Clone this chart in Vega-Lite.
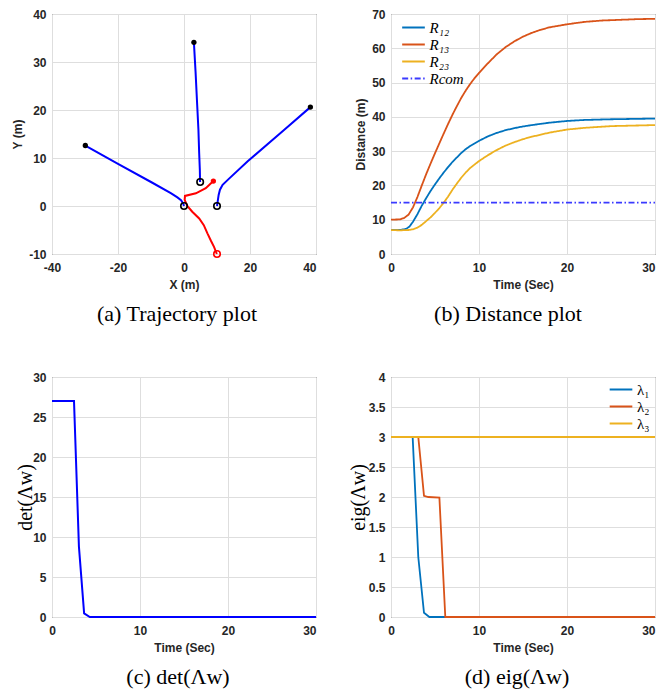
{
  "$schema": "https://vega.github.io/schema/vega-lite/v6.json",
  "padding": {"left": 11, "top": 7, "right": 3, "bottom": 0},
  "datasets": {
    "traj": [
      {"path": "a1", "kind": "agent", "seq": 1, "x": -29.9, "y": 12.6},
      {"path": "a1", "kind": "agent", "seq": 2, "x": -20, "y": 8.8},
      {"path": "a1", "kind": "agent", "seq": 3, "x": -10, "y": 5.0},
      {"path": "a1", "kind": "agent", "seq": 4, "x": -4.0, "y": 2.66},
      {"path": "a1", "kind": "agent", "seq": 5, "x": -2.0, "y": 1.8},
      {"path": "a1", "kind": "agent", "seq": 6, "x": -0.9, "y": 1.2},
      {"path": "a1", "kind": "agent", "seq": 7, "x": -0.3, "y": 0.6},
      {"path": "a1", "kind": "agent", "seq": 8, "x": 0, "y": 0},
      {"path": "a2", "kind": "agent", "seq": 1, "x": 3.0, "y": 34.1},
      {"path": "a2", "kind": "agent", "seq": 2, "x": 3.5, "y": 28},
      {"path": "a2", "kind": "agent", "seq": 3, "x": 4.0, "y": 21},
      {"path": "a2", "kind": "agent", "seq": 4, "x": 4.37, "y": 15.9},
      {"path": "a2", "kind": "agent", "seq": 5, "x": 4.6, "y": 11},
      {"path": "a2", "kind": "agent", "seq": 6, "x": 4.8, "y": 7.5},
      {"path": "a2", "kind": "agent", "seq": 7, "x": 4.87, "y": 5.0},
      {"path": "a3", "kind": "agent", "seq": 1, "x": 38.3, "y": 20.6},
      {"path": "a3", "kind": "agent", "seq": 2, "x": 30.4, "y": 15.9},
      {"path": "a3", "kind": "agent", "seq": 3, "x": 19.3, "y": 9.3},
      {"path": "a3", "kind": "agent", "seq": 4, "x": 13.5, "y": 5.6},
      {"path": "a3", "kind": "agent", "seq": 5, "x": 11.7, "y": 4.4},
      {"path": "a3", "kind": "agent", "seq": 6, "x": 10.9, "y": 3.4},
      {"path": "a3", "kind": "agent", "seq": 7, "x": 10.5, "y": 2.3},
      {"path": "a3", "kind": "agent", "seq": 8, "x": 10.2, "y": 0.9},
      {"path": "a3", "kind": "agent", "seq": 9, "x": 10.0, "y": 0},
      {"path": "t1", "kind": "target", "seq": 1, "x": 8.9, "y": 5.2},
      {"path": "t1", "kind": "target", "seq": 2, "x": 6.6, "y": 3.7},
      {"path": "t1", "kind": "target", "seq": 3, "x": 3.6, "y": 2.65},
      {"path": "t1", "kind": "target", "seq": 4, "x": 0.3, "y": 2.1},
      {"path": "t1", "kind": "target", "seq": 5, "x": 0.2, "y": 1.26},
      {"path": "t1", "kind": "target", "seq": 6, "x": 1.0, "y": 0},
      {"path": "t1", "kind": "target", "seq": 7, "x": 2.5, "y": -1.2},
      {"path": "t1", "kind": "target", "seq": 8, "x": 4.6, "y": -2.6},
      {"path": "t1", "kind": "target", "seq": 9, "x": 6.0, "y": -4.0},
      {"path": "t1", "kind": "target", "seq": 10, "x": 7.1, "y": -5.7},
      {"path": "t1", "kind": "target", "seq": 11, "x": 8.2, "y": -7.3},
      {"path": "t1", "kind": "target", "seq": 12, "x": 9.1, "y": -8.5},
      {"path": "t1", "kind": "target", "seq": 13, "x": 9.95, "y": -10}
    ],
    "marks": [
      {"kind": "agent", "end": "start", "x": -29.9, "y": 12.6},
      {"kind": "agent", "end": "start", "x": 3.0, "y": 34.1},
      {"kind": "agent", "end": "start", "x": 38.3, "y": 20.6},
      {"kind": "target", "end": "start", "x": 8.9, "y": 5.2},
      {"kind": "agent", "end": "end", "x": 0, "y": 0},
      {"kind": "agent", "end": "end", "x": 4.9, "y": 5.0},
      {"kind": "agent", "end": "end", "x": 10, "y": 0},
      {"kind": "target", "end": "end", "x": 10, "y": -10}
    ],
    "dist": [
      {"s": "R₁₂", "t": 0, "d": 7.0}, {"s": "R₁₂", "t": 1, "d": 7.0}, {"s": "R₁₂", "t": 1.7, "d": 7.3}, {"s": "R₁₂", "t": 2.1, "d": 8.0},
      {"s": "R₁₂", "t": 2.5, "d": 9.4}, {"s": "R₁₂", "t": 3, "d": 11.6}, {"s": "R₁₂", "t": 3.5, "d": 14.1}, {"s": "R₁₂", "t": 4, "d": 16.3},
      {"s": "R₁₂", "t": 4.5, "d": 18.4}, {"s": "R₁₂", "t": 5, "d": 20.3}, {"s": "R₁₂", "t": 5.5, "d": 22.1}, {"s": "R₁₂", "t": 6, "d": 23.8},
      {"s": "R₁₂", "t": 6.5, "d": 25.4}, {"s": "R₁₂", "t": 7, "d": 26.9}, {"s": "R₁₂", "t": 7.5, "d": 28.2}, {"s": "R₁₂", "t": 8, "d": 29.5},
      {"s": "R₁₂", "t": 8.5, "d": 30.6}, {"s": "R₁₂", "t": 9, "d": 31.5}, {"s": "R₁₂", "t": 10, "d": 33.0}, {"s": "R₁₂", "t": 11, "d": 34.3},
      {"s": "R₁₂", "t": 12, "d": 35.3}, {"s": "R₁₂", "t": 13, "d": 36.1}, {"s": "R₁₂", "t": 14, "d": 36.7}, {"s": "R₁₂", "t": 15, "d": 37.2},
      {"s": "R₁₂", "t": 16, "d": 37.6}, {"s": "R₁₂", "t": 18, "d": 38.3}, {"s": "R₁₂", "t": 20, "d": 38.8}, {"s": "R₁₂", "t": 22, "d": 39.1},
      {"s": "R₁₂", "t": 25, "d": 39.3}, {"s": "R₁₂", "t": 30, "d": 39.5},
      {"s": "R₁₃", "t": 0, "d": 10.0}, {"s": "R₁₃", "t": 1, "d": 10.1}, {"s": "R₁₃", "t": 1.5, "d": 10.5}, {"s": "R₁₃", "t": 2, "d": 11.5},
      {"s": "R₁₃", "t": 2.5, "d": 13.6}, {"s": "R₁₃", "t": 3, "d": 16.6}, {"s": "R₁₃", "t": 3.5, "d": 20.0}, {"s": "R₁₃", "t": 4, "d": 23.3},
      {"s": "R₁₃", "t": 4.5, "d": 26.4}, {"s": "R₁₃", "t": 5, "d": 29.4}, {"s": "R₁₃", "t": 5.5, "d": 32.3}, {"s": "R₁₃", "t": 6, "d": 35.2},
      {"s": "R₁₃", "t": 6.5, "d": 38.0}, {"s": "R₁₃", "t": 7, "d": 40.7}, {"s": "R₁₃", "t": 7.5, "d": 43.2}, {"s": "R₁₃", "t": 8, "d": 45.6},
      {"s": "R₁₃", "t": 8.5, "d": 47.7}, {"s": "R₁₃", "t": 9, "d": 49.6}, {"s": "R₁₃", "t": 9.5, "d": 51.3}, {"s": "R₁₃", "t": 10, "d": 52.8},
      {"s": "R₁₃", "t": 11, "d": 55.6}, {"s": "R₁₃", "t": 12, "d": 58.2}, {"s": "R₁₃", "t": 13, "d": 60.3}, {"s": "R₁₃", "t": 14, "d": 62.0},
      {"s": "R₁₃", "t": 15, "d": 63.4}, {"s": "R₁₃", "t": 16, "d": 64.5}, {"s": "R₁₃", "t": 17, "d": 65.4}, {"s": "R₁₃", "t": 18, "d": 66.1},
      {"s": "R₁₃", "t": 20, "d": 67.0}, {"s": "R₁₃", "t": 22, "d": 67.7}, {"s": "R₁₃", "t": 24, "d": 68.1}, {"s": "R₁₃", "t": 26, "d": 68.3},
      {"s": "R₁₃", "t": 28, "d": 68.5}, {"s": "R₁₃", "t": 30, "d": 68.6},
      {"s": "R₂₃", "t": 0, "d": 7.0}, {"s": "R₂₃", "t": 1, "d": 6.9}, {"s": "R₂₃", "t": 2, "d": 7.0}, {"s": "R₂₃", "t": 2.5, "d": 7.2},
      {"s": "R₂₃", "t": 3, "d": 7.7}, {"s": "R₂₃", "t": 3.5, "d": 8.5}, {"s": "R₂₃", "t": 4, "d": 9.6}, {"s": "R₂₃", "t": 4.5, "d": 10.7},
      {"s": "R₂₃", "t": 5, "d": 12.0}, {"s": "R₂₃", "t": 5.5, "d": 13.4}, {"s": "R₂₃", "t": 6, "d": 15.0}, {"s": "R₂₃", "t": 6.5, "d": 16.8},
      {"s": "R₂₃", "t": 7, "d": 18.8}, {"s": "R₂₃", "t": 7.5, "d": 20.6}, {"s": "R₂₃", "t": 8, "d": 22.3}, {"s": "R₂₃", "t": 8.5, "d": 23.8},
      {"s": "R₂₃", "t": 9, "d": 25.1}, {"s": "R₂₃", "t": 10, "d": 27.1}, {"s": "R₂₃", "t": 11, "d": 28.8}, {"s": "R₂₃", "t": 12, "d": 30.3},
      {"s": "R₂₃", "t": 13, "d": 31.6}, {"s": "R₂₃", "t": 14, "d": 32.6}, {"s": "R₂₃", "t": 15, "d": 33.5}, {"s": "R₂₃", "t": 16, "d": 34.2},
      {"s": "R₂₃", "t": 18, "d": 35.4}, {"s": "R₂₃", "t": 20, "d": 36.3}, {"s": "R₂₃", "t": 22, "d": 36.8}, {"s": "R₂₃", "t": 25, "d": 37.3},
      {"s": "R₂₃", "t": 30, "d": 37.6},
      {"s": "Rcom", "t": 0, "d": 15}, {"s": "Rcom", "t": 30, "d": 15}
    ],
    "det": [
      {"t": 0, "v": 27}, {"t": 2.5, "v": 27}, {"t": 3.06, "v": 8.8}, {"t": 3.65, "v": 0.45}, {"t": 4.3, "v": 0}, {"t": 30, "v": 0}
    ],
    "eig": [
      {"s": "λ₁", "t": 0, "v": 3}, {"s": "λ₁", "t": 2.46, "v": 3}, {"s": "λ₁", "t": 3.1, "v": 1.0}, {"s": "λ₁", "t": 3.75, "v": 0.07}, {"s": "λ₁", "t": 4.36, "v": 0}, {"s": "λ₁", "t": 30, "v": 0},
      {"s": "λ₂", "t": 0, "v": 3}, {"s": "λ₂", "t": 3.1, "v": 3}, {"s": "λ₂", "t": 3.75, "v": 2.02}, {"s": "λ₂", "t": 4.24, "v": 2.0}, {"s": "λ₂", "t": 5.5, "v": 1.99}, {"s": "λ₂", "t": 6.17, "v": 0}, {"s": "λ₂", "t": 30, "v": 0},
      {"s": "λ₃", "t": 0, "v": 3}, {"s": "λ₃", "t": 30, "v": 3}
    ]
  },
  "columns": 2,
  "spacing": {"row": 123, "column": 75},
  "bounds": "flush",
  "resolve": {
    "scale": {"color": "independent", "strokeDash": "independent"},
    "legend": {"color": "independent", "strokeDash": "independent"}
  },
  "concat": [
    {
      "width": 264, "height": 240,
      "title": {"text": "(a) Trajectory plot", "dx": -7},
      "layer": [
        {
          "data": {"name": "traj"},
          "mark": {"type": "line", "strokeWidth": 2},
          "encoding": {
            "x": {"field": "x", "type": "quantitative", "scale": {"domain": [-40, 40], "nice": false}, "axis": {"values": [-40, -20, 0, 20, 40], "title": "X (m)", "labelAlign": {"expr": "datum.value === 40 ? 'right' : 'center'"}}},
            "y": {"field": "y", "type": "quantitative", "scale": {"domain": [-10, 40], "nice": false}, "axis": {"values": [-10, 0, 10, 20, 30, 40], "title": "Y (m)"}},
            "detail": {"field": "path"},
            "order": {"field": "seq"},
            "color": {"field": "kind", "type": "nominal", "scale": {"domain": ["agent", "target"], "range": ["#0000ff", "#ff0000"]}, "legend": null}
          }
        },
        {
          "data": {"name": "marks"},
          "transform": [{"filter": "datum.end === 'start'"}],
          "mark": {"type": "point", "filled": true, "size": 28, "opacity": 1},
          "encoding": {
            "x": {"field": "x", "type": "quantitative"},
            "y": {"field": "y", "type": "quantitative"},
            "color": {"condition": {"test": "datum.kind === 'target'", "value": "#ff0000"}, "value": "#000000"}
          }
        },
        {
          "data": {"name": "marks"},
          "transform": [{"filter": "datum.end === 'end'"}],
          "mark": {"type": "point", "filled": false, "size": 42, "strokeWidth": 1.6, "opacity": 1},
          "encoding": {
            "x": {"field": "x", "type": "quantitative"},
            "y": {"field": "y", "type": "quantitative"},
            "color": {"condition": {"test": "datum.kind === 'target'", "value": "#ff0000"}, "value": "#000000"}
          }
        }
      ]
    },
    {
      "width": 264, "height": 240,
      "title": {"text": "(b) Distance plot", "dx": -15},
      "data": {"name": "dist"},
      "mark": {"type": "line", "strokeWidth": 1.8},
      "encoding": {
        "x": {"field": "t", "type": "quantitative", "scale": {"domain": [0, 30], "nice": false}, "axis": {"values": [0, 10, 20, 30], "title": "Time (Sec)", "labelAlign": {"expr": "datum.value === 30 ? 'right' : 'center'"}}},
        "y": {"field": "d", "type": "quantitative", "scale": {"domain": [0, 70], "nice": false}, "axis": {"values": [0, 10, 20, 30, 40, 50, 60, 70], "title": "Distance (m)"}},
        "color": {"field": "s", "type": "nominal", "scale": {"domain": ["R₁₂", "R₁₃", "R₂₃", "Rcom"], "range": ["#0072bd", "#d95319", "#edb120", "#3a3aff"]},
          "legend": {"title": null, "orient": "none", "legendX": 15, "legendY": 6, "labelFontStyle": "italic", "labelFont": "Liberation Serif", "labelFontSize": 15}},
        "strokeDash": {"field": "s", "type": "nominal", "scale": {"domain": ["R₁₂", "R₁₃", "R₂₃", "Rcom"], "range": [[1, 0], [1, 0], [1, 0], [6, 2.5, 1.5, 2.5]]},
          "legend": {"title": null, "orient": "none", "legendX": 15, "legendY": 6, "labelFontStyle": "italic", "labelFont": "Liberation Serif", "labelFontSize": 15}}
      }
    },
    {
      "width": 264, "height": 240,
      "title": {"text": "(c) det(Λw)", "dx": -6},
      "data": {"name": "det"},
      "mark": {"type": "line", "strokeWidth": 2, "color": "#0000ff"},
      "encoding": {
        "x": {"field": "t", "type": "quantitative", "scale": {"domain": [0, 30], "nice": false}, "axis": {"values": [0, 10, 20, 30], "title": "Time (Sec)", "labelAlign": {"expr": "datum.value === 30 ? 'right' : 'center'"}}},
        "y": {"field": "v", "type": "quantitative", "scale": {"domain": [0, 30], "nice": false}, "axis": {"values": [0, 5, 10, 15, 20, 25, 30], "title": "det(Λw)", "titleFont": "Liberation Serif", "titleFontWeight": "normal", "titleFontSize": 20, "titleColor": "#000000", "titlePadding": -3}}
      }
    },
    {
      "width": 264, "height": 240,
      "title": {"text": "(d) eig(Λw)", "dx": -6},
      "data": {"name": "eig"},
      "mark": {"type": "line", "strokeWidth": 1.8},
      "encoding": {
        "x": {"field": "t", "type": "quantitative", "scale": {"domain": [0, 30], "nice": false}, "axis": {"values": [0, 10, 20, 30], "title": "Time (Sec)", "labelAlign": {"expr": "datum.value === 30 ? 'right' : 'center'"}}},
        "y": {"field": "v", "type": "quantitative", "scale": {"domain": [0, 4], "nice": false}, "axis": {"values": [0, 0.5, 1, 1.5, 2, 2.5, 3, 3.5, 4], "format": "~g", "title": "eig(Λw)", "titleFont": "Liberation Serif", "titleFontWeight": "normal", "titleFontSize": 20, "titleColor": "#000000", "titlePadding": 0}},
        "color": {"field": "s", "type": "nominal", "scale": {"domain": ["λ₁", "λ₂", "λ₃"], "range": ["#0072bd", "#d95319", "#edb120"]},
          "legend": {"title": null, "orient": "none", "legendX": 222.5, "legendY": 5, "labelFont": "Liberation Serif", "labelFontSize": 15}}
      }
    }
  ],
  "config": {
    "view": {"stroke": "#262626", "strokeWidth": 1},
    "axis": {
      "labelFont": "Liberation Sans", "labelFontWeight": "bold", "labelFontSize": 12, "labelColor": "#262626",
      "titleFont": "Liberation Sans", "titleFontWeight": "bold", "titleFontSize": 12, "titleColor": "#262626",
      "gridColor": "#dedede", "gridWidth": 1, "domain": false, "ticks": false, "labelPadding": 8, "titlePadding": 6,
      "labelFlush": false, "labelExpr": "replace(datum.label, '−', '-')"
    },
    "axisY": {"labelPadding": 6, "titlePadding": 4},
    "title": {"font": "Liberation Serif", "fontSize": 22, "fontWeight": "normal", "color": "#000000", "orient": "bottom", "anchor": "middle", "offset": 14},
    "legend": {"symbolType": "M-1.85,0H1.85", "symbolSize": 150, "symbolStrokeWidth": 2, "padding": 0, "rowPadding": 1, "labelOffset": 8.5, "labelColor": "#000000"}
  }
}
